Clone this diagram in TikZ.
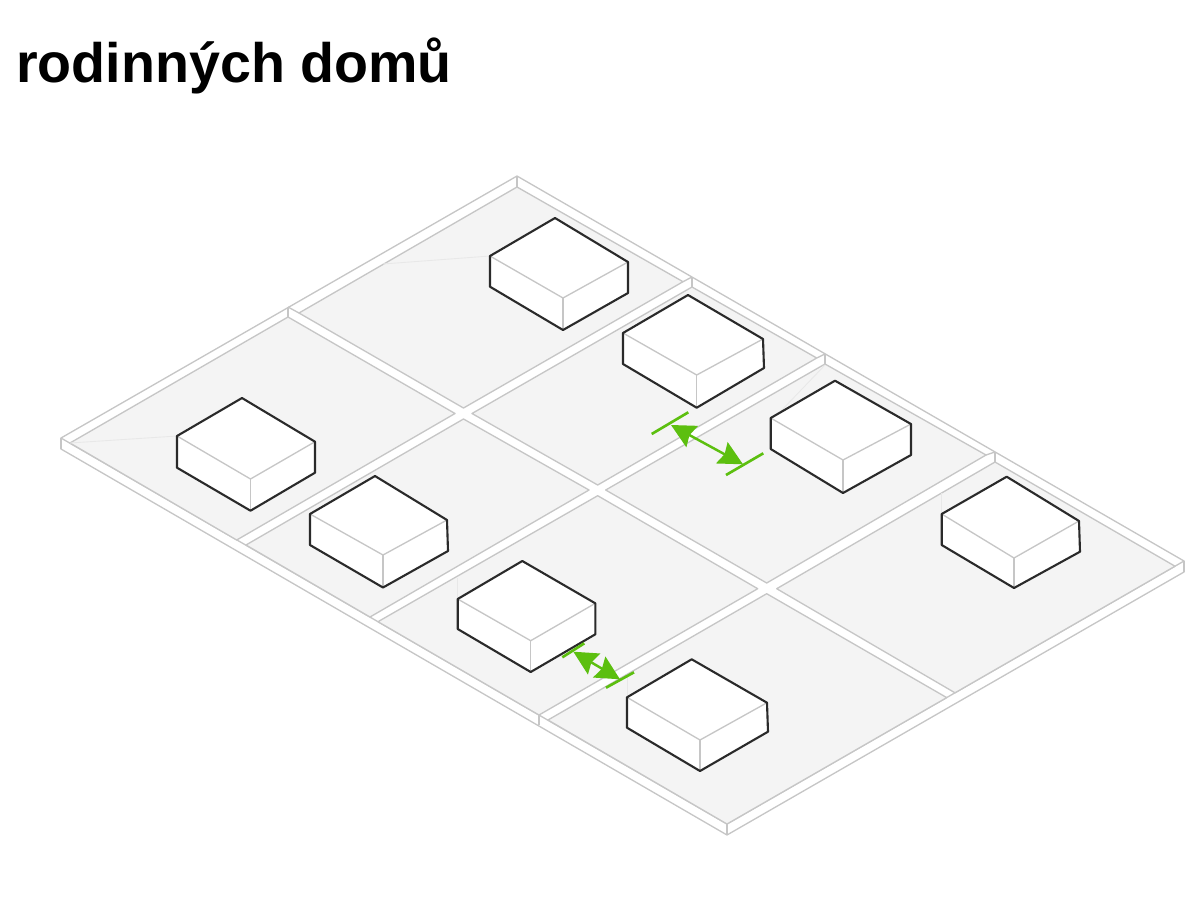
\documentclass[tikz,border=0pt]{standalone}
\usepackage{fontspec}
\setmainfont{Liberation Sans}
\usetikzlibrary{arrows.meta}
\definecolor{rim}{HTML}{C6C6C6}
\definecolor{plot}{HTML}{F4F4F4}
\definecolor{faintline}{HTML}{E8E8E8}
\definecolor{ink}{HTML}{2A2A2A}
\definecolor{measure}{HTML}{5CBF0F}
\tikzset{
  rimline/.style={draw=rim,line width=0.75pt,line join=round},
  plotcell/.style={fill=plot,draw=rim,line width=0.75pt,line join=round},
  faint/.style={draw=faintline,line width=0.5pt},
  houseedge/.style={draw=ink,line width=1.2pt,line join=round},
  houseinner/.style={draw=rim,line width=0.75pt},
  bar/.style={draw=measure,line width=1.5pt},
  gap/.style={draw=measure,line width=1.4pt,{Stealth[length=4.8mm,width=4.8mm,inset=0.6mm]}-{Stealth[length=4.8mm,width=4.8mm,inset=0.6mm]}},
  title/.style={font=\bfseries\fontsize{31.65pt}{36pt}\selectfont,text=black,anchor=base west,inner sep=0pt}
}
% args: top, left, left-bottom, bottom, right-bottom, right, inner
\newcommand{\hausblock}[7]{%
  \fill[white] #1 -- #2 -- #3 -- #4 -- #5 -- #6 -- cycle;
  \draw[houseinner] #2 -- #7 -- #6;
  \draw[houseinner] #7 -- #4;
  \draw[houseedge] #3 -- #2 -- #1 -- #6 -- #5 -- #4 -- cycle;
}
\begin{document}
\begin{tikzpicture}[x=0.02cm,y=-0.02cm]
\useasboundingbox (0,0) rectangle (1200,900);
\node[title] (headline) at (16,82) {rodinných domů};

% slab
\draw[rimline,fill=white] (61,438) -- (517,176) -- (1184,561) -- (1184,572) -- (727,835) -- (61,449) -- cycle;
\draw[rimline] (61,438) -- (727,824) -- (1184,561);
\draw[rimline] (727,824) -- (727,835);
\draw[rimline] (539,715) -- (539,725);

% plots
\draw[plotcell] (70,443) -- (288,317) -- (455,413.5) -- (236.7,540) -- cycle;
\draw[plotcell] (299,313) -- (517,187) -- (683,281.7) -- (463.5,408) -- cycle;
\draw[plotcell] (246,545) -- (463.5,419) -- (589,490) -- (370,617) -- cycle;
\draw[plotcell] (472,413.5) -- (692,287) -- (816.7,358) -- (597.7,485) -- cycle;
\draw[plotcell] (378,621.7) -- (597.7,495.7) -- (757.7,588.7) -- (539,715) -- cycle;
\draw[plotcell] (605.7,490) -- (825,364) -- (986,455) -- (766.7,583) -- cycle;
\draw[plotcell] (548,720) -- (766.7,593.7) -- (946.7,697.6) -- (727,824) -- cycle;
\draw[plotcell] (776.7,588.7) -- (995,462) -- (1175,566.2) -- (955,692.8) -- cycle;

% wall ticks at the rear edges
\draw[rimline] (61,438) -- (61,449);
\draw[rimline] (517,176) -- (517,187);
\draw[rimline] (288,307) -- (288,317);
\draw[rimline] (692,277) -- (692,287);
\draw[rimline] (825,354) -- (825,364);
\draw[rimline] (995,452) -- (995,462);
\draw[rimline] (1184,561) -- (1184,572);
\draw[rimline] (288,307) -- (299,313);
\draw[rimline] (683,281.7) -- (692,277);
\draw[rimline] (816.7,358) -- (825,354);
\draw[rimline] (986,455) -- (995,452);

% faint traces on the plots
\draw[faint] (70,443) -- (177,436);
\draw[faint] (383,264) -- (490,256);
\draw[faint] (825,365) -- (780,412);
\draw[faint] (457.7,578) -- (457.7,599);
\draw[faint] (627,677) -- (627,697);
\draw[faint] (941.7,493) -- (941.7,514);

% houses
\hausblock{(242,398)}{(177,436)}{(177,467.7)}{(250.5,510.7)}{(315,472.7)}{(315,441.7)}{(250.5,479)}
\hausblock{(555,218)}{(490,256)}{(490,286.7)}{(563,330)}{(628,293)}{(628,262)}{(563,298)}
\hausblock{(688,295)}{(623,333)}{(623,364)}{(696.7,407.7)}{(764,368)}{(763,339)}{(696.7,375)}
\hausblock{(835,380.7)}{(770.7,418)}{(770.7,449)}{(843,493)}{(911,455)}{(911,424)}{(843,460)}
\hausblock{(1006.7,476.7)}{(941.7,514)}{(941.7,545)}{(1014,588)}{(1080,551.7)}{(1079,521)}{(1014,558)}
\hausblock{(375,476)}{(310,514)}{(310,545)}{(383,587.5)}{(448,551)}{(447,520)}{(383,555)}
\hausblock{(522.3,561)}{(457.7,599)}{(457.7,629)}{(530.7,672)}{(595.3,634.3)}{(595.3,603.3)}{(530.7,640.7)}
\hausblock{(691.7,659.3)}{(627,697.3)}{(627,727.7)}{(700,771)}{(768,731.7)}{(767,702.7)}{(700,740)}

% measures
\coordinate (ua) at (651.7,434);
\coordinate (ub) at (688.3,412.3);
\coordinate (uc) at (726,475);
\coordinate (ud) at (763.3,453.3);
\coordinate (ue) at (671,425);
\coordinate (uf) at (743,464.3);
\draw[bar] (ua) -- (ub);
\draw[bar] (uc) -- (ud);
\draw[gap] (ue) -- (uf);
\coordinate (la) at (562.3,657.3);
\coordinate (lb) at (584.3,643.3);
\coordinate (lc) at (606,687.7);
\coordinate (ld) at (634,672.3);
\coordinate (le) at (573.3,651.7);
\coordinate (lf) at (620,679.3);
\draw[bar] (la) -- (lb);
\draw[bar] (lc) -- (ld);
\draw[gap] (le) -- (lf);
\end{tikzpicture}
\end{document}
